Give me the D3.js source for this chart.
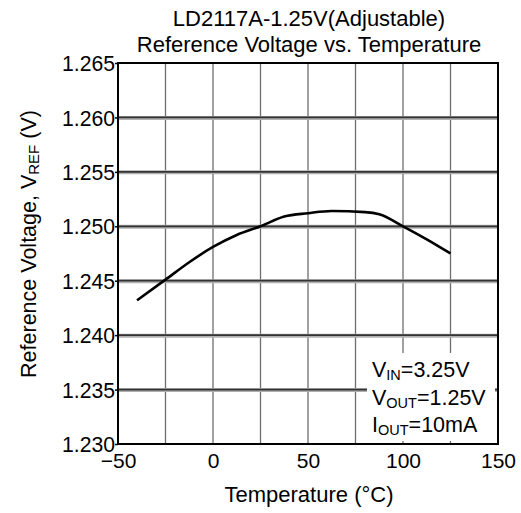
<!DOCTYPE html>
<html>
<head>
<meta charset="utf-8">
<script src="https://cdn.jsdelivr.net/npm/d3@7"></script>
<style>
  html, body { margin: 0; padding: 0; background: #fff; }
  svg { display: block; font-family: Arial, "Liberation Sans", sans-serif; }
</style>
</head>
<body>
<svg id="chart" width="521" height="513"></svg>
<script>
// ---- data ----
const temperatures = [-40, -25, -12.5, 0, 12.5, 25, 37.5, 50, 62.5, 80, 87.5, 100, 112.5, 125];
const vrefValues   = [1.2432, 1.2451, 1.2467, 1.2481, 1.2492, 1.2500, 1.2509, 1.2512, 1.2514, 1.2513, 1.2511, 1.2500, 1.2488, 1.2475];
const xTickLabels = [-50, 0, 50, 100, 150];
const xGridValues = [-25, 0, 25, 50, 75, 100, 125];
const yTickValues = [1.230, 1.235, 1.240, 1.245, 1.250, 1.255, 1.260, 1.265];
const titleLines = ["LD2117A-1.25V(Adjustable)", "Reference Voltage vs. Temperature"];
const conditions = [
  { main: "V", sub: "IN", rest: "=3.25V" },
  { main: "V", sub: "OUT", rest: "=1.25V" },
  { main: "I", sub: "OUT", rest: "=10mA" }
];

// ---- layout ----
const L = 118, R = 498, T = 63, B = 444;
const svg = d3.select("#chart");
const x = d3.scaleLinear().domain([-50, 150]).range([L, R]);
const y = d3.scaleLinear().domain([1.230, 1.265]).range([B, T]);

// vertical grid
svg.append("g").selectAll("line").data(xGridValues).join("line")
  .attr("x1", d => x(d)).attr("x2", d => x(d))
  .attr("y1", T).attr("y2", B)
  .attr("stroke", "#6e6e6e").attr("stroke-width", 1.3);

// horizontal grid (halo + dark line)
const hg = svg.append("g");
hg.selectAll("line.halo").data(yTickValues.slice(1, -1)).join("line")
  .attr("class", "halo")
  .attr("x1", L).attr("x2", R).attr("y1", d => y(d) + 0.5).attr("y2", d => y(d) + 0.5)
  .attr("stroke", "#b0b0b0").attr("stroke-width", 4);
hg.selectAll("line.core").data(yTickValues.slice(1, -1)).join("line")
  .attr("class", "core")
  .attr("x1", L).attr("x2", R).attr("y1", d => y(d)).attr("y2", d => y(d))
  .attr("stroke", "#333").attr("stroke-width", 1.8);

// legend box background
svg.append("rect").attr("x", 367).attr("y", 353).attr("width", 128).attr("height", 88)
  .attr("fill", "#fff");

// frame
svg.append("rect").attr("x", L).attr("y", T).attr("width", R - L).attr("height", B - T)
  .attr("fill", "none").attr("stroke", "#000").attr("stroke-width", 2);

// y axis ticks + labels
const yAxis = d3.axisLeft(y).tickValues(yTickValues).tickFormat(d3.format(".3f"))
  .tickSize(3).tickPadding(0);
const gy = svg.append("g").attr("transform", `translate(${L},0)`).call(yAxis);
gy.select(".domain").remove();
gy.selectAll("line").attr("stroke", "#000").attr("stroke-width", 1.5);
gy.selectAll("text").attr("font-size", 21.2).attr("fill", "#000").attr("dy", "0.36em")
  .attr("font-family", "Arial, 'Liberation Sans', sans-serif");

// x axis labels
const xAxis = d3.axisBottom(x).tickValues(xTickLabels).tickFormat(d3.format("d"))
  .tickSize(0).tickPadding(9);
const gx = svg.append("g").attr("transform", `translate(0,${B})`).call(xAxis);
gx.select(".domain").remove();
gx.selectAll("text").attr("font-size", 21).attr("fill", "#000")
  .attr("font-family", "Arial, 'Liberation Sans', sans-serif");

// curve
const pts = temperatures.map((t, i) => [t, vrefValues[i]]);
const line = d3.line().x(d => x(d[0])).y(d => y(d[1])).curve(d3.curveMonotoneX);
svg.append("path").datum(pts).attr("d", line)
  .attr("fill", "none").attr("stroke", "#000").attr("stroke-width", 2.6)
  .attr("stroke-linejoin", "round").attr("stroke-linecap", "butt");

// title
svg.append("g").selectAll("text").data(titleLines).join("text")
  .attr("x", (L + R) / 2 + 1).attr("y", (d, i) => 26 + i * 26)
  .attr("text-anchor", "middle").attr("font-size", 22).attr("fill", "#000")
  .text(d => d);

// axis titles
svg.append("text").attr("x", (L + R) / 2 + 1).attr("y", 502)
  .attr("text-anchor", "middle").attr("font-size", 22).attr("fill", "#000")
  .text("Temperature (°C)");

const yl = svg.append("text")
  .attr("transform", `translate(36,244) rotate(-90)`)
  .attr("text-anchor", "middle").attr("font-size", 21.5).attr("fill", "#000");
yl.append("tspan").text("Reference Voltage, V");
yl.append("tspan").attr("font-size", 15).attr("dy", 3).text("REF");
yl.append("tspan").attr("dy", -3).text(" (V)");

// conditions
const cg = svg.append("g");
conditions.forEach((c, i) => {
  const t = cg.append("text").attr("x", 372).attr("y", 377 + i * 27.5)
    .attr("font-size", 21.5).attr("fill", "#000");
  t.append("tspan").text(c.main);
  t.append("tspan").attr("font-size", 14.5).attr("dy", 3).text(c.sub);
  t.append("tspan").attr("dy", -3).text(c.rest);
});
</script>
</body>
</html>
